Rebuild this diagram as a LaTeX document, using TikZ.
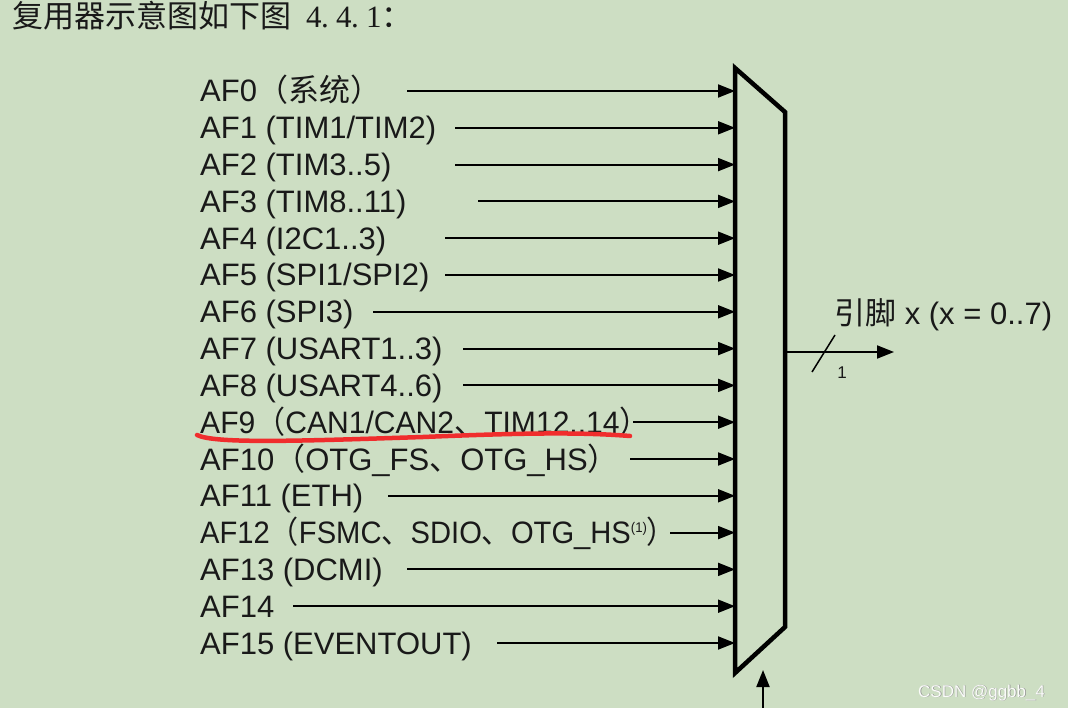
\documentclass[tikz,border=0pt]{standalone}
\usepackage{fontspec}
\setmainfont{Liberation Sans}
\newfontfamily\cjk{Noto Sans CJK SC}
\newfontfamily\serifnum{Liberation Serif}
\usetikzlibrary{arrows.meta}
\definecolor{bgc}{RGB}{205,222,195}
\definecolor{txt}{RGB}{25,25,25}
\definecolor{redline}{RGB}{240,45,45}
\newcommand{\hw}[1]{\makebox[15pt][l]{#1}}
\begin{document}
\begin{tikzpicture}[x=1pt,y=-1pt,
  lbl/.style={anchor=base west,inner sep=0pt,text=txt,font=\fontsize{31}{32}\selectfont},
  inarrow/.style={line width=2pt,-{Triangle[length=17pt,width=13pt]}},
  muxline/.style={line width=4.5pt,line join=miter}]
\fill[bgc] (0,0) rectangle (1068,708);
\useasboundingbox (0,0) rectangle (1068,708);
% title
\node[anchor=base west,inner sep=0pt,text=txt] (title) at (12,28)
  {\fontsize{31}{32}\selectfont\cjk 复用器示意图如下图\serifnum\fontsize{31}{32}\selectfont\hw{}\hw{4}\hw{.}\hw{4}\hw{.}\hw{1}\cjk ：};
% mux
\coordinate (m1) at (735,68);
\coordinate (m2) at (785,112);
\coordinate (m3) at (785,627);
\coordinate (m4) at (735,673);
\draw[muxline] (m1) -- (m2) -- (m3) -- (m4) -- cycle;
% input labels
\foreach \i/\t/\s in {
 0/{AF0{\cjk（系统）}}/407,
 1/{AF1 (TIM1/TIM2)}/455,
 2/{AF2 (TIM3..5)}/455,
 3/{AF3 (TIM8..11)}/478,
 4/{AF4 (I2C1..3)}/445,
 5/{AF5 (SPI1/SPI2)}/445,
 6/{AF6 (SPI3)}/373,
 7/{AF7 (USART1..3)}/463,
 8/{AF8 (USART4..6)}/463,
 9/{\scalebox{0.97}[1]{AF9{\cjk（}CAN1/CAN2{\cjk 、}TIM12..14{\cjk ）}}}/633,
 10/{AF10{\cjk（}OTG\_FS{\cjk 、}OTG\_HS{\cjk ）}}/630,
 11/{AF11 (ETH)}/388,
 12/{\scalebox{0.94}[1]{AF12{\cjk（}FSMC{\cjk 、}SDIO{\cjk 、}OTG\_HS\raisebox{11pt}{\fontsize{14}{14}\selectfont(1)}{\cjk ）}}}/670,
 13/{AF13 (DCMI)}/407,
 14/{AF14}/293,
 15/{AF15 (EVENTOUT)}/497}{
  \pgfmathsetmacro{\yy}{91+36.8*\i}
  \node[lbl] (l\i) at (200,\yy+11) {\t};
  \coordinate (s\i) at (\s,\yy);
  \coordinate (e\i) at (735,\yy);
  \draw[inarrow] (s\i) -- (e\i);
}
% red underline
\coordinate (r0) at (197,435);
\coordinate (r1) at (423,437);
\coordinate (r2) at (630,436);
\draw[redline,line width=4.5pt,line cap=round] (r0) .. controls (215,444) and (300,441) .. (r1) .. controls (520,433) and (580,432) .. (r2);
% output
\coordinate (o0) at (785,352);
\coordinate (o1) at (894,352);
\draw[inarrow] (o0) -- (o1);
\coordinate (sl0) at (812,372);
\coordinate (sl1) at (835,335);
\draw[line width=1.5pt] (sl0) -- (sl1);
\node[anchor=center,inner sep=0pt,text=txt,font=\fontsize{17}{18}\selectfont] (one) at (842,373) {1};
\node[anchor=base west,inner sep=0pt,text=txt,font=\fontsize{31}{32}\selectfont] (pin) at (834,325) {{\cjk 引脚} x (x = 0..7)};
% select arrow
\coordinate (c0) at (763,708);
\coordinate (c1) at (763,670);
\draw[inarrow] (c0) -- (c1);
% watermark
\node[anchor=base west,inner sep=0pt,text=black!45,font=\fontsize{17}{18}\selectfont] (wms) at (918.6,697.6) {CSDN @ggbb\_4};
\node[anchor=base west,inner sep=0pt,text=white!92!bgc,font=\fontsize{17}{18}\selectfont] (wm) at (918,697) {CSDN @ggbb\_4};
\end{tikzpicture}
\end{document}
